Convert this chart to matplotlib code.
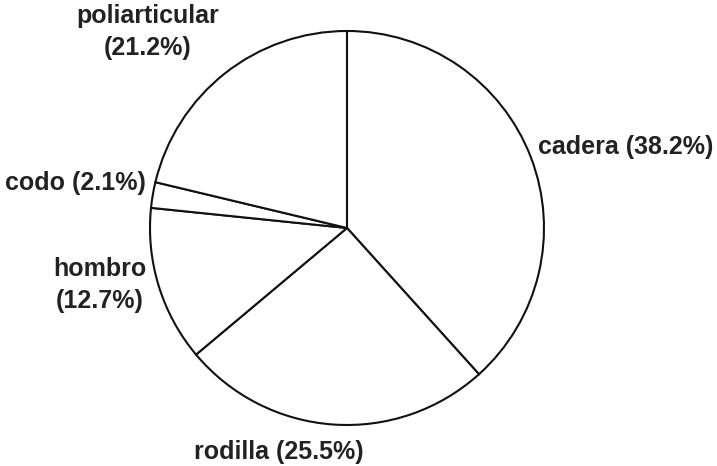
import matplotlib
matplotlib.use("Agg")
import matplotlib.pyplot as plt

categories = ["cadera", "rodilla", "hombro", "codo", "poliarticular"]
values = [38.2, 25.5, 12.7, 2.1, 21.2]
label_texts = ["cadera (38.2%)", "rodilla (25.5%)", "hombro\n(12.7%)", "codo (2.1%)", "poliarticular\n(21.2%)"]
label_pos = [(1.416, 0.411), (-0.345, -1.137), (-1.254, -0.289), (-1.381, 0.228), (-1.010, 0.995)]

fig = plt.figure(figsize=(7.17, 4.66), dpi=100)
ax = fig.add_axes([0.2092, 0.088, 0.5495, 0.8455])
ax.pie(values, startangle=90, counterclock=False, colors=["white"] * len(values),
       wedgeprops=dict(edgecolor="#111111", linewidth=1.5))
for t, (x, y) in zip(label_texts, label_pos):
    ax.text(x, y, t, ha="center", va="center", fontsize=18, fontweight="bold",
            family="Liberation Sans", linespacing=1.4, color="#222222")
ax.set_xlim(-1, 1)
ax.set_ylim(-1, 1)
ax.set_aspect("equal")
fig.savefig("out.png", dpi=100)
